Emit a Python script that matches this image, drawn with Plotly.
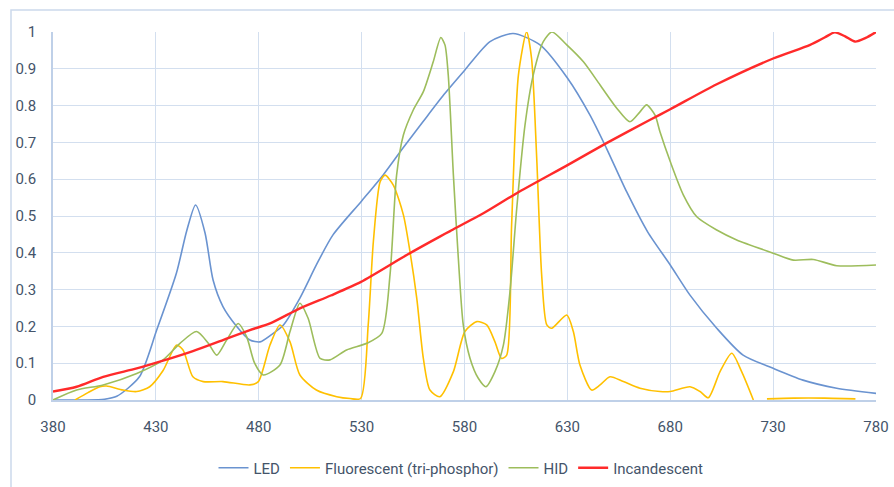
import plotly.graph_objects as go

# ---- data ----
led_wl = [380, 395, 405, 411, 422, 430.4, 440, 445, 449.3, 453.9, 457.8, 462.6, 469.3, 475.7, 480.6,
          486, 492, 500, 508, 516, 529.7, 540.4, 550, 559.8, 570, 580.2, 592.4, 603.6, 616.7, 630,
          641, 649, 658.8, 669, 680, 689.6, 702.6, 715.4, 730, 744.5, 760.9, 780]
led_val = [0, 0, 0.002, 0.01, 0.063, 0.19, 0.345, 0.46, 0.53, 0.454, 0.326, 0.254, 0.2, 0.163, 0.158,
           0.177, 0.204, 0.277, 0.367, 0.448, 0.539, 0.611, 0.684, 0.756, 0.83, 0.897, 0.974, 0.996, 0.965, 0.875,
           0.774, 0.684, 0.566, 0.457, 0.367, 0.285, 0.195, 0.122, 0.086, 0.054, 0.032, 0.018]

fluo_wl = [390.7, 397, 402.8, 406, 414, 420.7, 427, 433.5, 440, 443.2, 448, 453, 462.6, 475.7, 479.8,
           485.5, 490.3, 495.2, 500, 508, 517.9, 524.4, 529.5, 533.2, 535.7, 539, 541.4, 545.4, 550.3, 553.5,
           556.8, 560, 563.2, 568, 574.6, 580.2, 586, 590.8, 594.8, 598, 600.5, 602.9, 606.2, 610.2,
           612.6, 615.1, 617.5, 620, 622.4, 629.7, 632.9, 636.1, 641.8, 645.9, 650.7, 657.2, 665.3, 675,
           680, 689.6, 694.5, 698.5, 704.2, 709.9, 714.7, 720.4, None,
           727, 740, 755, 770]
fluo_val = [0, 0.02, 0.036, 0.038, 0.027, 0.023, 0.036, 0.08, 0.149, 0.136, 0.063, 0.05, 0.05, 0.041, 0.05,
            0.15, 0.204, 0.158, 0.068, 0.027, 0.009, 0.004, 0.004, 0.204, 0.43, 0.593, 0.611, 0.584, 0.503, 0.403,
            0.276, 0.113, 0.027, 0.009, 0.077, 0.186, 0.213, 0.204, 0.158, 0.113, 0.122, 0.476, 0.883, 1.0,
            0.928, 0.657, 0.34, 0.204, 0.195, 0.231, 0.186, 0.095, 0.027, 0.041, 0.063, 0.05, 0.032, 0.023,
            0.023, 0.036, 0.023, 0.006, 0.077, 0.127, 0.077, 0.0, None,
            0.003, 0.005, 0.005, 0.003]

hid_wl = [380, 391.5, 404.4, 420.7, 433.5, 441.7, 449.8, 455.5, 459.6, 464.4, 470, 474.1, 478, 482.2,
          490.3, 495.2, 500, 504, 509.8, 514.6, 522.7, 532.5, 539.8, 543.8, 547, 550.3, 555.1, 560, 564.8,
          568.5, 570.5, 572.1, 574.6, 577, 579.4, 582.7, 586.7, 590.4, 594.8, 598.9, 602.1, 605.4, 609.4,
          613.4, 618.3, 622.5, 629.7, 637.8, 645.9, 654, 660.4, 665.3, 668.5, 672.6, 675, 680, 686.4,
          692.9, 702.6, 712.3, 730, 739.8, 749.5, 760.9, 780]
hid_val = [0, 0.027, 0.041, 0.072, 0.109, 0.154, 0.186, 0.154, 0.122, 0.163, 0.208, 0.172, 0.1, 0.068,
           0.095, 0.186, 0.263, 0.222, 0.113, 0.109, 0.136, 0.154, 0.181, 0.34, 0.611, 0.72, 0.788, 0.838, 0.919,
           0.985, 0.965, 0.883, 0.611, 0.385, 0.204, 0.113, 0.059, 0.036, 0.077, 0.149, 0.294, 0.521, 0.747,
           0.883, 0.974, 1.0, 0.965, 0.919, 0.856, 0.793, 0.756, 0.783, 0.802, 0.774, 0.729, 0.648, 0.557,
           0.498, 0.462, 0.435, 0.399, 0.38, 0.382, 0.365, 0.367]

inc_wl = [380, 391.5, 404.4, 420.7, 433.5, 448, 462.6, 475.7, 485.5, 500, 515, 529.7, 551.9, 568, 573,
          590, 605.4, 630.3, 649, 670, 680, 702.6, 730, 748, 755, 760, 765, 769.8, 775, 780]
inc_val = [0.023, 0.036, 0.063, 0.086, 0.107, 0.133, 0.163, 0.19, 0.208, 0.249, 0.284, 0.321, 0.394, 0.444, 0.459,
           0.51, 0.562, 0.639, 0.698, 0.761, 0.79, 0.858, 0.928, 0.965, 0.985, 0.999, 0.988, 0.974, 0.984, 1.0]

x_ticks = [380, 430, 480, 530, 580, 630, 680, 730, 780]

series = [
    ("LED", led_wl, led_val, "#6A93D0", 1.6),
    ("Fluorescent (tri-phosphor)", fluo_wl, fluo_val, "#FFC000", 1.6),
    ("HID", hid_wl, hid_val, "#9DBD5C", 1.6),
    ("Incandescent", inc_wl, inc_val, "#FF2A2A", 2.4),
]

FONT = "Roboto, sans-serif"
FS = 15
TXT = "#44546A"
GRID = "#D3DFEF"

fig = go.Figure()
for name, xs, ys, col, w in series:
    fig.add_trace(go.Scatter(x=xs, y=ys, name=name, mode="lines",
                             line=dict(color=col, width=w, shape="spline", smoothing=0.7),
                             connectgaps=False))

W, H = 894, 487
ml, mr, mt, mb = 53, 18, 32, 87
pw, ph = W - ml - mr, H - mt - mb

def px2paper_x(p):
    return (p - ml) / pw

def py2paper_y(p):
    return (H - mb - p) / ph

fig.add_shape(type="rect", xref="paper", yref="paper",
              x0=px2paper_x(11), x1=px2paper_x(905), y0=py2paper_y(500), y1=py2paper_y(10),
              line=dict(color="#CCD9EC", width=1.5), fillcolor="rgba(0,0,0,0)", layer="below")

fig.update_layout(
    width=W, height=H,
    margin=dict(l=ml, r=mr, t=mt, b=mb, autoexpand=False),
    paper_bgcolor="white", plot_bgcolor="white",
    font=dict(family=FONT, size=FS, color=TXT),
    showlegend=True,
    legend=dict(orientation="h", x=px2paper_x(461), xanchor="center", y=py2paper_y(468), yanchor="middle",
                font=dict(family=FONT, size=FS, color=TXT), itemwidth=30, tracegroupgap=0,
                bgcolor="rgba(0,0,0,0)"),
    xaxis=dict(range=[380, 780], tickvals=x_ticks, ticktext=[str(v) for v in x_ticks],
               automargin=False,
               showgrid=True, gridcolor=GRID, gridwidth=1, zeroline=False,
               showline=True, linecolor="#BFD0E8", linewidth=1.5,
               ticks="", ticklabelstandoff=12, tickfont=dict(family=FONT, size=FS, color=TXT)),
    yaxis=dict(range=[0, 1], dtick=0.1, tick0=0, automargin=False,
               showgrid=True, gridcolor=GRID, gridwidth=1, zeroline=False,
               showline=True, linecolor="#BFD0E8", linewidth=1.5,
               ticks="", ticklabelstandoff=12, tickfont=dict(family=FONT, size=FS, color=TXT)),
)

fig.write_html("out.html", config={"displayModeBar": False},
               post_script="document.body.style.margin='0';document.body.style.overflow='hidden';")
